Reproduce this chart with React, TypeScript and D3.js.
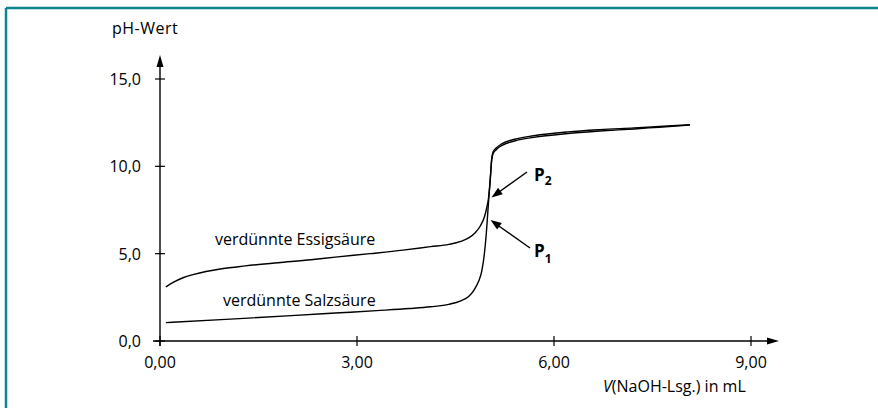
import React from "react";
import * as d3 from "d3";

const xTicks = [0, 3, 6, 9];
const xTickLabels = ["0,00", "3,00", "6,00", "9,00"];
const yTicks = [0, 5, 10, 15];
const yTickLabels = ["0,0", "5,0", "10,0", "15,0"];

const essigV = [0.09, 0.2, 0.35, 0.5, 0.7, 0.94, 1.3, 1.8, 2.3, 2.67, 3.2, 3.7, 4.12, 4.4, 4.58, 4.7, 4.8, 4.88, 4.94, 4.98, 5.0, 5.03, 5.05, 5.07, 5.12, 5.21, 5.4, 5.69, 6.21, 6.7, 7.22, 7.6, 8.07];
const essigPH = [3.1, 3.35, 3.62, 3.8, 3.98, 4.14, 4.3, 4.48, 4.65, 4.8, 5.0, 5.2, 5.4, 5.53, 5.7, 5.9, 6.2, 6.6, 7.1, 7.7, 8.1, 9.3, 10.4, 10.8, 11.05, 11.3, 11.55, 11.75, 11.97, 12.1, 12.2, 12.28, 12.38];

const salzV = [0.09, 1.0, 2.0, 2.67, 3.3, 3.8, 4.12, 4.4, 4.58, 4.7, 4.78, 4.85, 4.9, 4.94, 4.97, 5.0, 5.03, 5.05, 5.07, 5.12, 5.21, 5.4, 5.69, 6.21, 6.7, 7.22, 7.6, 8.07];
const salzPH = [1.05, 1.24, 1.45, 1.6, 1.74, 1.86, 1.96, 2.1, 2.3, 2.55, 2.9, 3.4, 4.0, 5.0, 6.2, 7.8, 9.3, 10.3, 10.7, 10.95, 11.2, 11.45, 11.66, 11.88, 12.02, 12.14, 12.24, 12.36];

const seriesLabels = ["verdünnte Essigsäure", "verdünnte Salzsäure"];

const FONT = "'Open Sans', sans-serif";

export default function App() {
  const W = 878, H = 408;
  const x = d3.scaleLinear().domain([0, 9]).range([160, 751]);
  const y = d3.scaleLinear().domain([0, 15]).range([341, 79]);
  const line = d3
    .line<[number, number]>()
    .x((d) => x(d[0]))
    .y((d) => y(d[1]))
    .curve(d3.curveMonotoneX);
  const essig = essigV.map((v, i) => [v, essigPH[i]] as [number, number]);
  const salz = salzV.map((v, i) => [v, salzPH[i]] as [number, number]);
  const x0 = x(0), y0 = y(0);

  const arrowHead = (x1: number, y1: number, x2: number, y2: number, len = 10, w = 3.5) => {
    const a = Math.atan2(y2 - y1, x2 - x1);
    const bx = x2 - len * Math.cos(a), by = y2 - len * Math.sin(a);
    const px = -Math.sin(a) * w, py = Math.cos(a) * w;
    return `M${x2},${y2}L${bx + px},${by + py}L${bx - px},${by - py}Z`;
  };

  return (
    <svg width={W} height={H} style={{ position: "absolute", left: 0, top: 0, background: "#fff" }} fontFamily={FONT}>
      <rect x={0} y={0} width={W} height={H} fill="#fff" />
      <line x1={6} y1={8} x2={W} y2={8} stroke="#0a878d" strokeWidth={2.5} />
      <line x1={6} y1={8} x2={6} y2={H} stroke="#0a878d" strokeWidth={2.5} />

      {/* axes */}
      <line x1={x0} y1={y0 + 5} x2={x0} y2={62} stroke="#000" strokeWidth={1.4} />
      <path d={arrowHead(x0, 80, x0, 55, 12, 3.5)} fill="#000" />
      <line x1={x0 - 7} y1={y0} x2={770} y2={y0} stroke="#000" strokeWidth={1.4} />
      <path d={arrowHead(740, y0, 779, y0, 12, 3.5)} fill="#000" />

      {yTicks.map((t, i) => (
        <g key={"y" + t}>
          <line x1={x0 - 5} x2={x0 + 5} y1={y(t)} y2={y(t)} stroke="#000" strokeWidth={1.2} />
          <text x={141} y={y(t) + 6} textAnchor="end" fontSize={16} fill="#000">
            {yTickLabels[i]}
          </text>
        </g>
      ))}
      {xTicks.map((t, i) => (
        <g key={"x" + t}>
          <line x1={x(t)} x2={x(t)} y1={y0 - 5} y2={y0 + 5} stroke="#000" strokeWidth={1.2} />
          <text x={x(t)} y={368} textAnchor="middle" fontSize={16} fill="#000">
            {xTickLabels[i]}
          </text>
        </g>
      ))}

      <text x={112} y={34} fontSize={16} fill="#000" letterSpacing={0.5}>pH-Wert</text>
      <text x={603} y={392} fontSize={16} fill="#000">
        <tspan fontStyle="italic">V</tspan>(NaOH-Lsg.) in mL
      </text>

      {/* curves */}
      <path d={line(salz) || ""} fill="none" stroke="#000" strokeWidth={1.4} />
      <path d={line(essig) || ""} fill="none" stroke="#000" strokeWidth={1.4} />

      <text x={215} y={245} fontSize={16} fill="#000">{seriesLabels[0]}</text>
      <text x={223} y={306} fontSize={16} fill="#000">{seriesLabels[1]}</text>

      {/* P arrows */}
      <line x1={527} y1={172} x2={497} y2={193.5} stroke="#000" strokeWidth={1.4} />
      <path d={arrowHead(527, 172, 491.5, 197.5, 11, 4)} fill="#000" />
      <line x1={530} y1={248} x2={496} y2={224} stroke="#000" strokeWidth={1.4} />
      <path d={arrowHead(530, 248, 490.5, 220, 11, 4)} fill="#000" />

      <text x={534} y={181} fontSize={17} fontWeight="bold" fill="#000">
        P<tspan fontSize={12} dy={4}>2</tspan>
      </text>
      <text x={534} y={257} fontSize={17} fontWeight="bold" fill="#000">
        P<tspan fontSize={12} dy={6}>1</tspan>
      </text>
    </svg>
  );
}
